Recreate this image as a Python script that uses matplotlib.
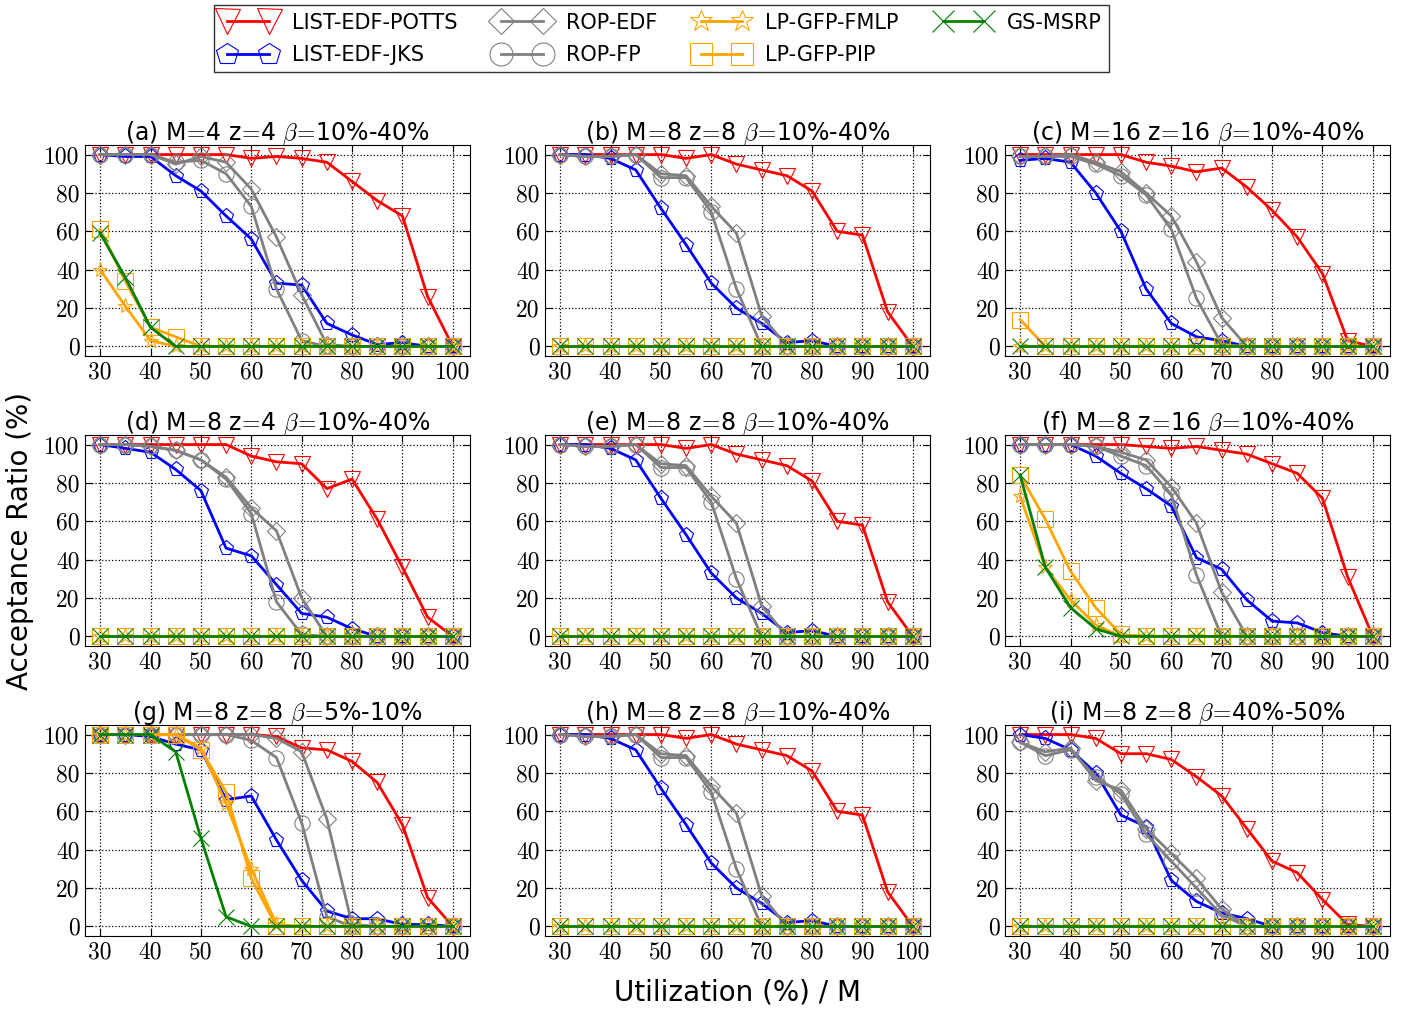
import matplotlib
matplotlib.use('Agg')
import matplotlib.pyplot as plt

plt.rcParams['mathtext.fontset'] = 'cm'
plt.rcParams['font.family'] = 'DejaVu Sans'

util = [30, 35, 40, 45, 50, 55, 60, 65, 70, 75, 80, 85, 90, 95, 100]

names = ['LIST-EDF-POTTS', 'LIST-EDF-JKS', 'ROP-EDF', 'ROP-FP',
         'LP-GFP-FMLP', 'LP-GFP-PIP', 'GS-MSRP']
colors = ['red', 'blue', 'gray', 'gray', 'orange', 'orange', 'green']
markers = ['v', 'p', 'D', 'o', '*', 's', 'x']
msizes = [12, 11, 9, 11, 11, 11, 11]

eq = r'$\!=\!$'
titles = ['(a) M' + eq + '4 z' + eq + r'4 $\beta$' + eq + '10%-40%',
          '(b) M' + eq + '8 z' + eq + r'8 $\beta$' + eq + '10%-40%',
          '(c) M' + eq + '16 z' + eq + r'16 $\beta$' + eq + '10%-40%',
          '(d) M' + eq + '8 z' + eq + r'4 $\beta$' + eq + '10%-40%',
          '(e) M' + eq + '8 z' + eq + r'8 $\beta$' + eq + '10%-40%',
          '(f) M' + eq + '8 z' + eq + r'16 $\beta$' + eq + '10%-40%',
          '(g) M' + eq + '8 z' + eq + r'8 $\beta$' + eq + '5%-10%',
          '(h) M' + eq + '8 z' + eq + r'8 $\beta$' + eq + '10%-40%',
          '(i) M' + eq + '8 z' + eq + r'8 $\beta$' + eq + '40%-50%']

zeros = [0] * 15

# (a) M=4 z=4
a_potts = [100, 100, 100, 100, 100, 100, 98, 99, 98, 96, 86, 76, 68, 26, 0]
a_jks = [100, 99, 99, 89, 81, 68, 56, 33, 32, 12, 6, 1, 2, 0, 0]
a_ropedf = [100, 100, 100, 95, 99, 96, 82, 57, 27, 1, 0, 0, 0, 0, 0]
a_ropfp = [100, 100, 100, 96, 97, 90, 73, 30, 3, 0, 0, 0, 0, 0, 0]
a_fmlp = [40, 21, 3, 0, 0, 0, 0, 0, 0, 0, 0, 0, 0, 0, 0]
a_pip = [61, 34, 10, 5, 0, 0, 0, 0, 0, 0, 0, 0, 0, 0, 0]
a_msrp = [59, 36, 10, 0, 0, 0, 0, 0, 0, 0, 0, 0, 0, 0, 0]

# (b), (e), (h) M=8 z=8 beta=10%-40%
b_potts = [100, 100, 100, 100, 100, 98, 100, 95, 92, 89, 81, 60, 58, 18, 0]
b_jks = [100, 100, 98, 92, 72, 53, 33, 20, 12, 2, 3, 0, 0, 0, 0]
b_ropedf = [100, 99, 99, 100, 90, 89, 73, 59, 16, 0, 0, 0, 0, 0, 0]
b_ropfp = [100, 99, 99, 100, 88, 88, 70, 30, 0, 0, 0, 0, 0, 0, 0]

# (c) M=16 z=16
c_potts = [100, 100, 100, 100, 100, 96, 94, 91, 93, 83, 71, 57, 38, 3, 0]
c_jks = [97, 98, 96, 80, 60, 30, 12, 5, 3, 0, 0, 0, 0, 0, 0]
c_ropedf = [99, 99, 100, 96, 91, 80, 68, 44, 15, 0, 0, 0, 0, 0, 0]
c_ropfp = [99, 99, 99, 95, 89, 79, 61, 25, 1, 0, 0, 0, 0, 0, 0]
c_pip = [14, 0, 0, 0, 0, 0, 0, 0, 0, 0, 0, 0, 0, 0, 0]

# (d) M=8 z=4
d_potts = [100, 100, 100, 100, 100, 100, 94, 91, 90, 77, 82, 61, 36, 10, 0]
d_jks = [100, 98, 96, 87, 76, 46, 42, 27, 12, 10, 4, 0, 0, 0, 0]
d_ropedf = [100, 100, 99, 97, 92, 83, 67, 55, 20, 0, 0, 0, 0, 0, 0]
d_ropfp = [100, 100, 99, 97, 92, 82, 64, 18, 1, 0, 0, 0, 0, 0, 0]

# (f) M=8 z=16
f_potts = [100, 100, 100, 100, 100, 99, 98, 99, 97, 95, 90, 85, 72, 31, 0]
f_jks = [100, 100, 100, 94, 85, 77, 68, 41, 35, 19, 8, 7, 2, 0, 0]
f_ropedf = [100, 100, 100, 99, 96, 92, 78, 59, 23, 0, 0, 0, 0, 0, 0]
f_ropfp = [100, 100, 100, 99, 94, 89, 74, 32, 0, 0, 0, 0, 0, 0, 0]
f_fmlp = [73, 36, 19, 6, 0, 0, 0, 0, 0, 0, 0, 0, 0, 0, 0]
f_pip = [84, 61, 34, 15, 1, 0, 0, 0, 0, 0, 0, 0, 0, 0, 0]
f_msrp = [84, 36, 15, 4, 0, 0, 0, 0, 0, 0, 0, 0, 0, 0, 0]

# (g) M=8 z=8 beta=5%-10%
g_potts = [100, 100, 100, 100, 100, 100, 100, 99, 93, 92, 86, 75, 53, 15, 0]
g_jks = [100, 100, 99, 95, 92, 66, 68, 45, 24, 8, 4, 4, 1, 1, 0]
g_ropedf = [100, 100, 100, 100, 100, 100, 100, 98, 91, 56, 1, 0, 0, 0, 0]
g_ropfp = [100, 100, 100, 100, 100, 100, 97, 88, 54, 5, 0, 0, 0, 0, 0]
g_fmlp = [100, 100, 100, 100, 93, 64, 30, 1, 0, 0, 0, 0, 0, 0, 0]
g_pip = [100, 100, 100, 100, 92, 70, 25, 0, 0, 0, 0, 0, 0, 0, 0]
g_msrp = [100, 100, 100, 91, 46, 5, 0, 0, 0, 0, 0, 0, 0, 0, 0]

# (i) M=8 z=8 beta=40%-50%
i_potts = [100, 100, 100, 98, 90, 90, 87, 78, 68, 51, 34, 28, 14, 1, 0]
i_jks = [100, 98, 92, 80, 58, 52, 24, 13, 7, 4, 0, 0, 0, 0, 0]
i_ropedf = [96, 91, 93, 76, 71, 51, 38, 25, 9, 0, 0, 0, 0, 0, 0]
i_ropfp = [96, 89, 92, 78, 69, 48, 34, 20, 6, 0, 0, 0, 0, 0, 0]

panels = [
    [a_potts, a_jks, a_ropedf, a_ropfp, a_fmlp, a_pip, a_msrp],
    [b_potts, b_jks, b_ropedf, b_ropfp, zeros, zeros, zeros],
    [c_potts, c_jks, c_ropedf, c_ropfp, zeros, c_pip, zeros],
    [d_potts, d_jks, d_ropedf, d_ropfp, zeros, zeros, zeros],
    [b_potts, b_jks, b_ropedf, b_ropfp, zeros, zeros, zeros],
    [f_potts, f_jks, f_ropedf, f_ropfp, f_fmlp, f_pip, f_msrp],
    [g_potts, g_jks, g_ropedf, g_ropfp, g_fmlp, g_pip, g_msrp],
    [b_potts, b_jks, b_ropedf, b_ropfp, zeros, zeros, zeros],
    [i_potts, i_jks, i_ropedf, i_ropfp, zeros, zeros, zeros],
]

fig, axes = plt.subplots(3, 3, figsize=(14.12, 10.11), dpi=100)
fig.subplots_adjust(left=0.0602, right=0.9844, top=0.8566, bottom=0.0742,
                    wspace=0.195, hspace=0.374)

for ax, title, series in zip(axes.flat, titles, panels):
    for k, ys in enumerate(series):
        ax.plot(util, ys, color=colors[k], lw=2, marker=markers[k],
                markersize=msizes[k], markerfacecolor='none',
                markeredgecolor=colors[k], markeredgewidth=0.8,
                label=names[k])
    ax.set_xlim(27, 103.4)
    ax.set_ylim(-5, 105)
    ax.set_xticks(range(30, 101, 10))
    ax.set_yticks(range(0, 101, 20))
    ax.tick_params(labelsize=17, direction='in', top=True, right=True,
                   length=5, pad=4)
    for lbl in ax.get_xticklabels() + ax.get_yticklabels():
        lbl.set_fontfamily('cmr10')
    ax.grid(True, color='black', linestyle=':', lw=0.9)
    ax.set_axisbelow(True)
    ax.set_title(title, fontsize=17, pad=4)
    for s in ax.spines.values():
        s.set_color('black')

handles, labels = axes[0, 0].get_legend_handles_labels()
leg = fig.legend(handles, labels, loc='upper center', ncol=4,
                 bbox_to_anchor=(0.4685, 1.0), fontsize=15, numpoints=2,
                 markerscale=1.5, fancybox=False, edgecolor='black',
                 handlelength=2.6, columnspacing=1.8, borderpad=0.35,
                 labelspacing=0.6, borderaxespad=0.25)
leg.get_frame().set_linewidth(1.0)

fig.text(0.014, 0.465, 'Acceptance Ratio (%)', rotation=90, fontsize=20,
         ha='center', va='center')
fig.text(0.522, 0.018, 'Utilization (%) / M', fontsize=20,
         ha='center', va='center')

fig.savefig('out.png', dpi=100)
